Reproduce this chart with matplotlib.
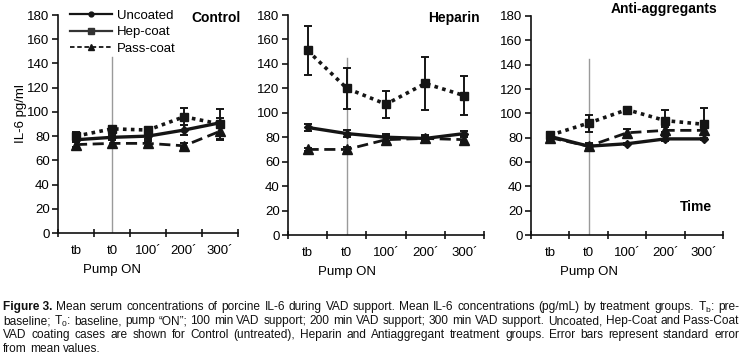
import matplotlib
matplotlib.use('Agg')
import matplotlib.pyplot as plt
from matplotlib.lines import Line2D
import numpy as np

categories = ['tb', 't0', '100´', '200´', '300´']
series_names = ['Uncoated', 'Hep-coat', 'Pass-coat']
panel_titles = ['Control', 'Heparin', 'Anti-aggregants']

control_uncoated = [77, 79, 80, 85, 91]
control_uncoated_err = [2, 2, 2, 4, 4]
control_hep = [80, 86, 85, 96, 90]
control_hep_err = [3, 2, 2, 7, 12]
control_pass = [73, 74, 74, 72, 84]
control_pass_err = [2, 3, 2, 2, 7]

heparin_uncoated = [88, 83, 80, 79, 83]
heparin_uncoated_err = [3, 3, 3, 3, 2]
heparin_hep = [151, 120, 107, 124, 114]
heparin_hep_err = [20, 17, 11, 22, 16]
heparin_pass = [70, 70, 78, 79, 78]
heparin_pass_err = [1, 2, 3, 2, 2]

anti_uncoated = [81, 73, 75, 79, 79]
anti_uncoated_err = [2, 2, 1, 2, 1]
anti_hep = [82, 92, 103, 94, 91]
anti_hep_err = [3, 7, 2, 9, 13]
anti_pass = [80, 73, 84, 86, 86]
anti_pass_err = [2, 3, 3, 3, 3]

yticks = [0, 20, 40, 60, 80, 100, 120, 140, 160, 180]
pump_on_line_top = 145

FONT = ['Liberation Sans Narrow', 'Liberation Sans', 'DejaVu Sans']
plt.rcParams['font.family'] = FONT
plt.rcParams['mathtext.fontset'] = 'custom'
plt.rcParams['mathtext.rm'] = 'Liberation Sans'
plt.rcParams['mathtext.it'] = 'Liberation Sans'

W, H = 741, 356
fig = plt.figure(figsize=(W / 100, H / 100), dpi=100)
fig.patch.set_facecolor('white')

boxes = [(58, 238, 15, 233), (288, 484, 15, 235), (531, 723, 16, 235)]
data = [
    [(control_uncoated, control_uncoated_err), (control_hep, control_hep_err), (control_pass, control_pass_err)],
    [(heparin_uncoated, heparin_uncoated_err), (heparin_hep, heparin_hep_err), (heparin_pass, heparin_pass_err)],
    [(anti_uncoated, anti_uncoated_err), (anti_hep, anti_hep_err), (anti_pass, anti_pass_err)],
]
styles = [
    dict(ls='-', marker='D', ms=4, lw=2.4),
    dict(ls=(0, (1, 1.2)), marker='s', ms=6, lw=2.6),
    dict(ls=(0, (4, 2)), marker='^', ms=6.5, lw=2.0),
]
col = '#151515'

axes = []
for i, (l, r, t, b) in enumerate(boxes):
    ax = fig.add_axes([l / W, 1 - b / H, (r - l) / W, (b - t) / H])
    axes.append(ax)
    x = np.arange(len(categories)) + 0.5
    ax.plot([1.5, 1.5], [0, pump_on_line_top], color='#9a9a9a', lw=1.0, zorder=1)
    for j, (vals, errs) in enumerate(data[i]):
        st = styles[j]
        ax.errorbar(x, vals, yerr=errs, color=col, ecolor=col, elinewidth=1.4,
                    capsize=3, capthick=1.4, ls=st['ls'], marker=st['marker'],
                    ms=st['ms'], lw=st['lw'], zorder=3)
    ax.set_xlim(0, 5)
    ax.set_ylim(0, 180)
    for s in ['top', 'right']:
        ax.spines[s].set_visible(False)
    for s in ['left', 'bottom']:
        ax.spines[s].set_linewidth(1.2)
        ax.spines[s].set_color('#111111')
    ax.set_yticks(yticks)
    ax.set_xticks(np.arange(0, 6))
    ax.set_xticklabels([])
    ax.set_xticks(x, minor=True)
    ax.set_xticklabels(categories, minor=True)
    ax.tick_params(axis='x', which='major', direction='inout', length=6, width=1.1)
    ax.tick_params(axis='x', which='minor', length=0, pad=9, labelsize=9.5)
    ax.tick_params(axis='y', direction='out', length=4, width=1.1, labelsize=9.5, pad=2)
    ax.set_xlabel('Pump ON', fontsize=9.5)
    ax.xaxis.set_label_coords(0.3, -0.14)

axes[0].set_ylabel('IL-6 pg/ml', fontsize=9.5, labelpad=1)
axes[0].yaxis.set_label_coords(-0.17, 0.55)
axes[0].text(0.88, 1.02, panel_titles[0], transform=axes[0].transAxes, ha='center', va='top',
             fontsize=10, fontweight='bold')
axes[1].text(0.845, 1.02, panel_titles[1], transform=axes[1].transAxes, ha='center', va='top',
             fontsize=10, fontweight='bold')
axes[2].text(0.695, 1.065, panel_titles[2], transform=axes[2].transAxes, ha='center', va='top',
             fontsize=10, fontweight='bold')
axes[2].text(0.86, 0.13, 'Time', transform=axes[2].transAxes, ha='center', va='center',
             fontsize=10, fontweight='bold')

handles = [
    Line2D([], [], color=col, lw=1.6, ls='-', marker='o', ms=3.5),
    Line2D([], [], color='#333333', lw=1.6, ls='-', marker='s', ms=5),
    Line2D([], [], color=col, lw=1.3, ls=(0, (2.5, 1.5)), marker='^', ms=5),
]
leg = axes[0].legend(handles, series_names, loc='upper left', bbox_to_anchor=(0.065, 1.025), frameon=False,
                     fontsize=9.5, handlelength=3.2, handletextpad=0.4, labelspacing=0.33,
                     borderaxespad=0, borderpad=0)

# caption, justified word by word
fig.canvas.draw()
rend = fig.canvas.get_renderer()
cap_size = 8.6
lines = [
    ([('Figure 3.', 'bold')] + [(w, 'normal') for w in
      'Mean serum concentrations of porcine IL-6 during VAD support. Mean IL-6 concentrations (pg/mL) by treatment groups.'.split()]
      + [(r'T$_\mathrm{b}$:', 'normal'), ('pre-', 'normal')], True),
    ([('baseline;', 'normal'), (r'T$_\mathrm{0}$:', 'normal')] + [(w, 'normal') for w in
      'baseline, pump “ON”; 100 min VAD support; 200 min VAD support; 300 min VAD support. Uncoated, Hep-Coat and Pass-Coat'.split()], True),
    ([(w, 'normal') for w in
      'VAD coating cases are shown for Control (untreated), Heparin and Antiaggregant treatment groups. Error bars represent standard error'.split()], True),
    ([(w, 'normal') for w in 'from mean values.'.split()], False),
]
ys = [307, 321, 335, 349]
x0, x1 = 3, 739
sp = fig.text(0, 0, 'a b', fontsize=cap_size)
sp2 = fig.text(0, 0, 'ab', fontsize=cap_size)
space_w = sp.get_window_extent(rend).width - sp2.get_window_extent(rend).width
sp.remove(); sp2.remove()
for (words, just), y in zip(lines, ys):
    ts = [fig.text(0, 1 - y / H, w, fontsize=cap_size, fontweight=wt, va='center', ha='left', color='#111111')
          for w, wt in words]
    widths = [t.get_window_extent(rend).width for t in ts]
    if just and len(ts) > 1:
        gap = (x1 - x0 - sum(widths)) / (len(ts) - 1)
    else:
        gap = space_w
    xx = x0
    for t, w in zip(ts, widths):
        t.set_x(xx / W)
        xx += w + gap

fig.savefig('out.png', dpi=100, facecolor='white')
